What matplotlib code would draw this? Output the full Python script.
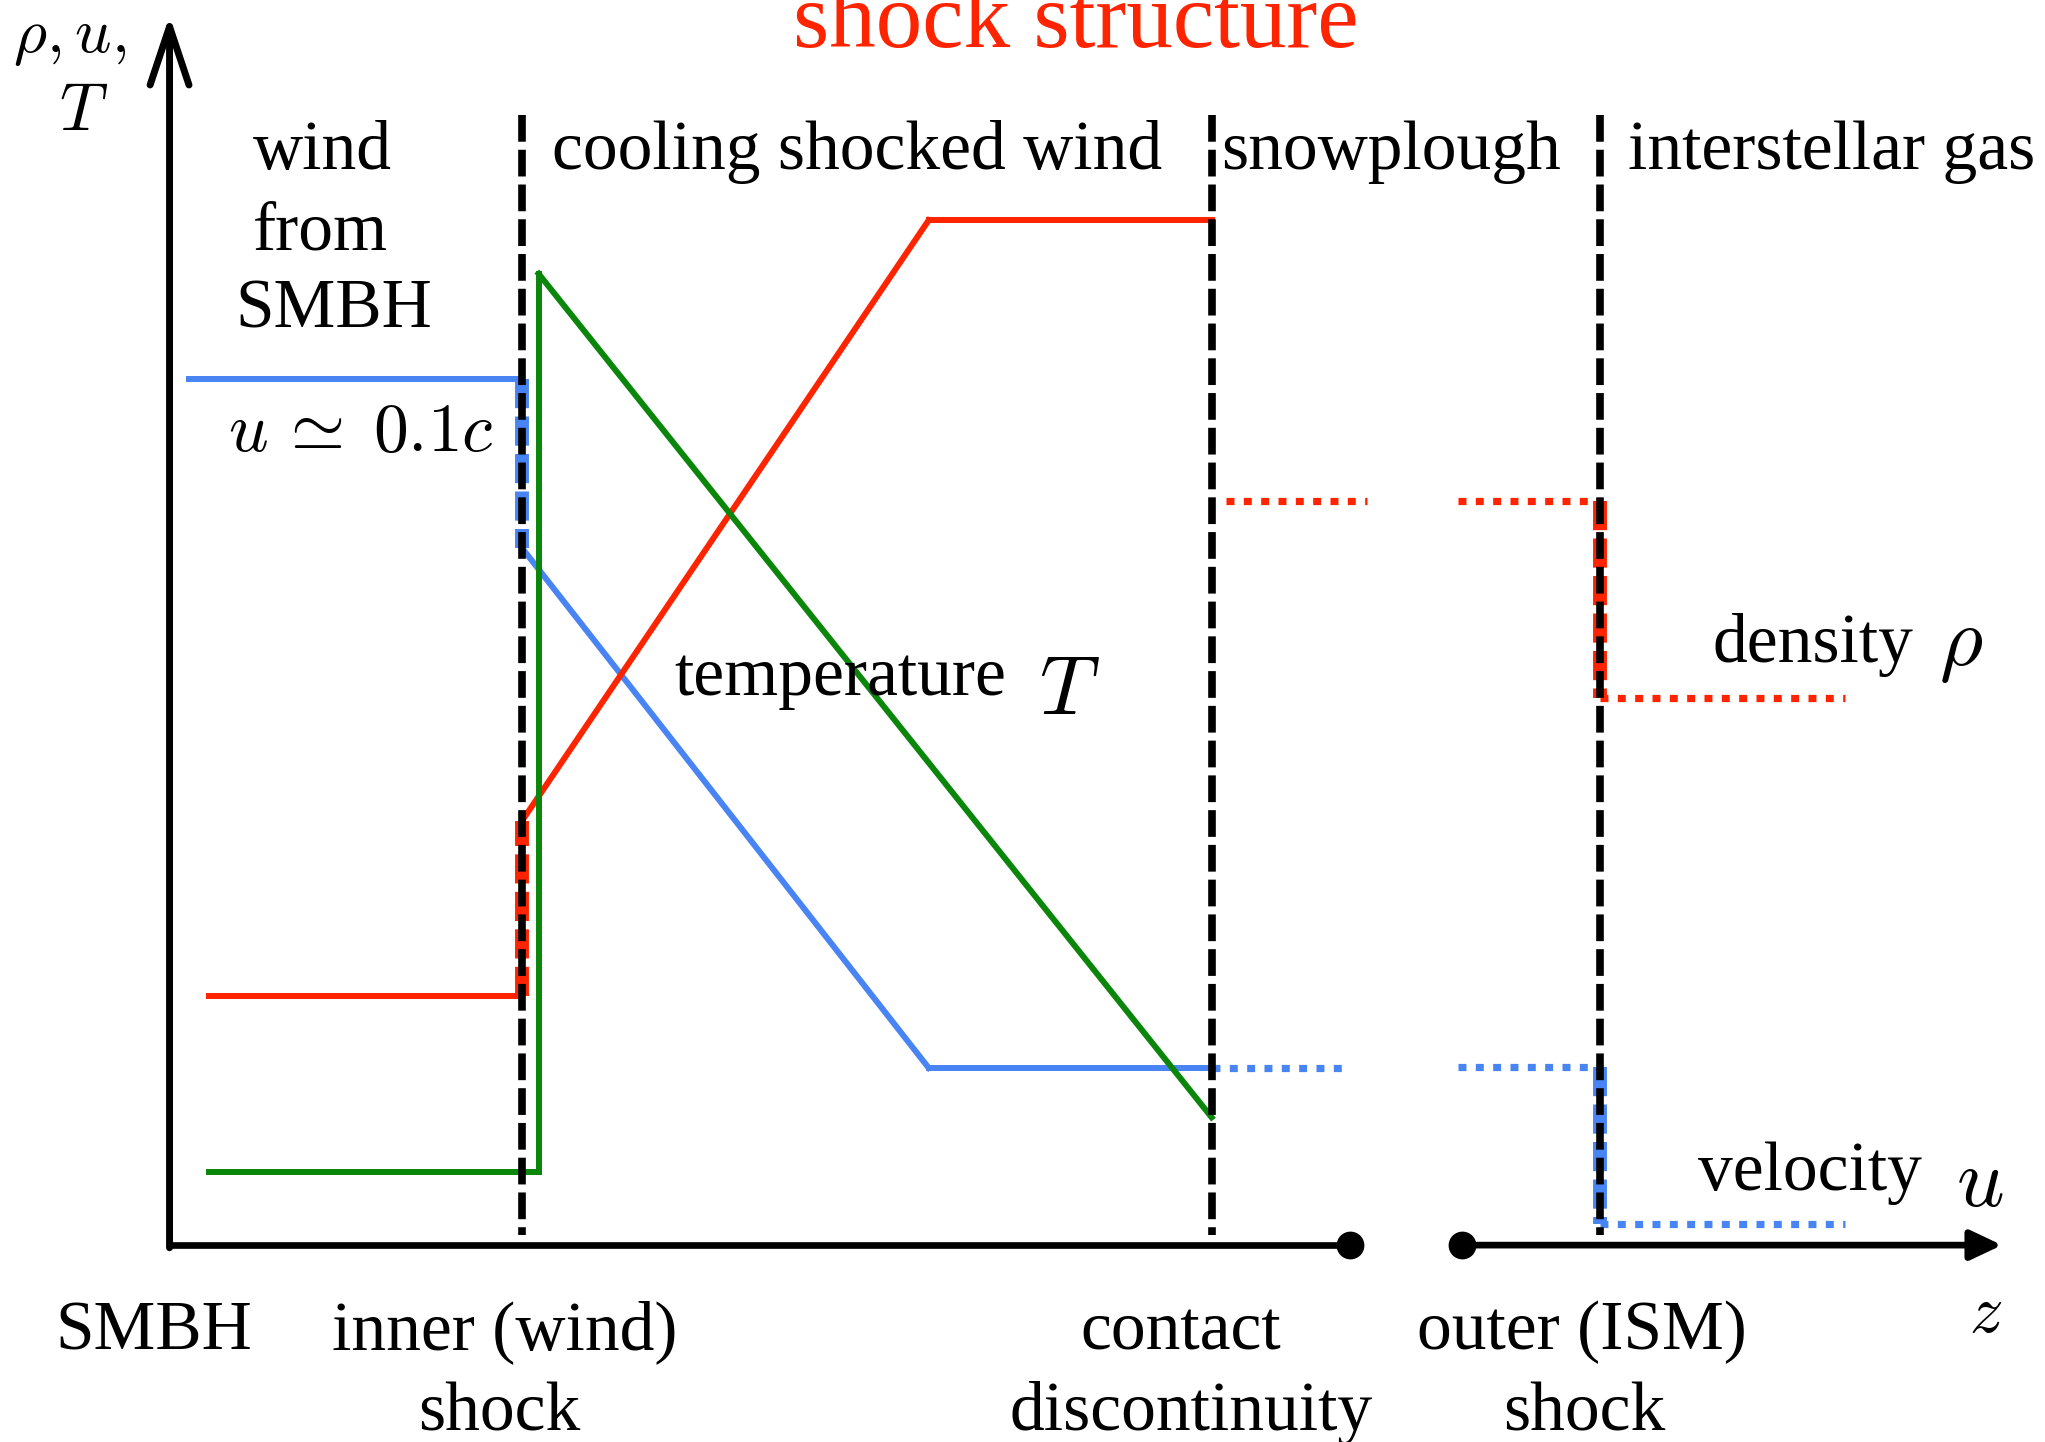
import numpy as np
import matplotlib
matplotlib.use("Agg")
import matplotlib.pyplot as plt

plt.rcParams['font.family'] = ['Liberation Serif', 'DejaVu Serif']
plt.rcParams['mathtext.fontset'] = 'cm'

# positions of the three discontinuities along z
z_inner, z_contact, z_outer = 2.70, 7.99, 10.97

# wind / shocked wind profiles (nodes; equal z means a jump)
vel_z = [0.15, 2.70, 2.70, 5.82, 7.99]
vel_u = [6.64, 6.64, 5.35, 1.36, 1.36]
temp_z = [0.30, 2.70, 2.70, 5.82, 7.99]
temp_T = [1.91, 1.91, 3.25, 7.86, 7.86]
dens_z = [0.30, 2.83, 2.83, 7.99]
dens_rho = [0.56, 0.56, 7.45, 0.98]

# snowplough shell and ambient gas (nan breaks the line)
shell_vel_z = [7.99, 9.00, np.nan, 9.88, 10.97, 10.97, 12.85]
shell_vel_u = [1.36, 1.36, np.nan, 1.37, 1.37, 0.16, 0.16]
shell_rho_z = [8.10, 9.18, np.nan, 9.88, 10.97, 10.97, 12.85]
shell_rho = [5.71, 5.71, np.nan, 5.71, 5.71, 4.20, 4.20]

BLUE = '#4884F4'
RED = '#FF2400'
GREEN = '#0A870A'

fig = plt.figure(figsize=(20.45, 14.42), dpi=100)
ax = fig.add_axes([0, 0, 1, 1])
ax.set_xlim(-1.30, 14.38)
ax.set_ylim(-1.51, 9.55)
ax.axis('off')


def draw_profile(z, v, color, style, jump_dashed=True):
    for i in range(len(z) - 1):
        if np.isnan(z[i]) or np.isnan(z[i + 1]):
            continue
        seg_z, seg_v = [z[i], z[i + 1]], [v[i], v[i + 1]]
        if z[i] == z[i + 1] and jump_dashed:
            ax.plot(seg_z, seg_v, color=color, lw=10, dashes=(2.1, 0.6),
                    solid_capstyle='butt', zorder=2)
        elif style == 'dotted':
            ax.plot(seg_z, seg_v, color=color, lw=5.2, dashes=(1.1, 1.3), zorder=3)
        else:
            ax.plot(seg_z, seg_v, color=color, lw=4.3, zorder=3)


draw_profile(vel_z, vel_u, BLUE, 'solid')
draw_profile(temp_z, temp_T, RED, 'solid')
draw_profile(dens_z, dens_rho, GREEN, 'solid', jump_dashed=False)
draw_profile(shell_vel_z, shell_vel_u, BLUE, 'dotted')
draw_profile(shell_rho_z, shell_rho, RED, 'dotted')

# discontinuities
for zs in (z_inner, z_contact, z_outer):
    ax.plot([zs, zs], [8.67, 0.08], color='black', lw=5.5, dashes=(3.5, 1.05), zorder=4)

# axes drawn by hand: vertical axis and broken z axis
ax.annotate('', xy=(0, 9.43), xytext=(0, -0.02),
            arrowprops=dict(arrowstyle='->,head_length=42,head_width=14',
                            mutation_scale=1, lw=5, color='black',
                            capstyle='round', shrinkA=0, shrinkB=0), zorder=5)
ax.plot([-0.02, 9.05], [0, 0], color='black', lw=4.8, solid_capstyle='butt', zorder=5)
ax.annotate('', xy=(14.05, 0), xytext=(9.91, 0),
            arrowprops=dict(arrowstyle='-|>,head_length=19,head_width=9',
                            mutation_scale=1, lw=4.8, color='black',
                            shrinkA=0, shrinkB=0), zorder=5)
ax.plot([9.05, 9.91], [0, 0], 'o', color='black', ms=19, zorder=6)

fs = 50
ax.text(6.95, 9.19, 'shock structure', color=RED, fontsize=67, ha='center', va='baseline')

ax.text(-1.20, 9.15, r'$\rho, u,$', fontsize=46, ha='left', va='baseline')
ax.text(-0.85, 8.55, r'$T$', fontsize=48, ha='left', va='baseline')

ax.text(1.17, 8.25, 'wind', fontsize=fs, ha='center', va='baseline')
ax.text(1.16, 7.64, 'from', fontsize=fs, ha='center', va='baseline')
ax.text(1.26, 7.04, 'SMBH', fontsize=fs, ha='center', va='baseline')
ax.text(2.93, 8.25, 'cooling shocked wind', fontsize=fs, ha='left', va='baseline')
ax.text(8.06, 8.25, 'snowplough', fontsize=fs, ha='left', va='baseline')
ax.text(11.18, 8.25, 'interstellar gas', fontsize=fs, ha='left', va='baseline')

ax.text(0.45, 6.09, r'$u\,\simeq\;0.1c$', fontsize=fs, ha='left', va='baseline')
ax.text(3.87, 4.22, 'temperature', fontsize=fs, ha='left', va='baseline')
ax.text(6.67, 4.07, r'$T$', fontsize=60, ha='left', va='baseline')
ax.text(11.83, 4.47, 'density', fontsize=fs, ha='left', va='baseline')
ax.text(13.57, 4.45, r'$\rho$', fontsize=60, ha='left', va='baseline')
ax.text(11.72, 0.42, 'velocity', fontsize=fs, ha='left', va='baseline')
ax.text(13.70, 0.30, r'$u$', fontsize=60, ha='left', va='baseline')

ax.text(-0.12, -0.80, 'SMBH', fontsize=fs, ha='center', va='baseline')
ax.text(2.57, -0.80, 'inner (wind)', fontsize=fs, ha='center', va='baseline')
ax.text(2.53, -1.42, 'shock', fontsize=fs, ha='center', va='baseline')
ax.text(7.75, -0.80, 'contact', fontsize=fs, ha='center', va='baseline')
ax.text(7.83, -1.42, 'discontinuity', fontsize=fs, ha='center', va='baseline')
ax.text(10.83, -0.80, 'outer (ISM)', fontsize=fs, ha='center', va='baseline')
ax.text(10.85, -1.42, 'shock', fontsize=fs, ha='center', va='baseline')
ax.text(13.80, -0.67, r'$z$', fontsize=48, ha='left', va='baseline')

fig.savefig('out.png', dpi=100)
